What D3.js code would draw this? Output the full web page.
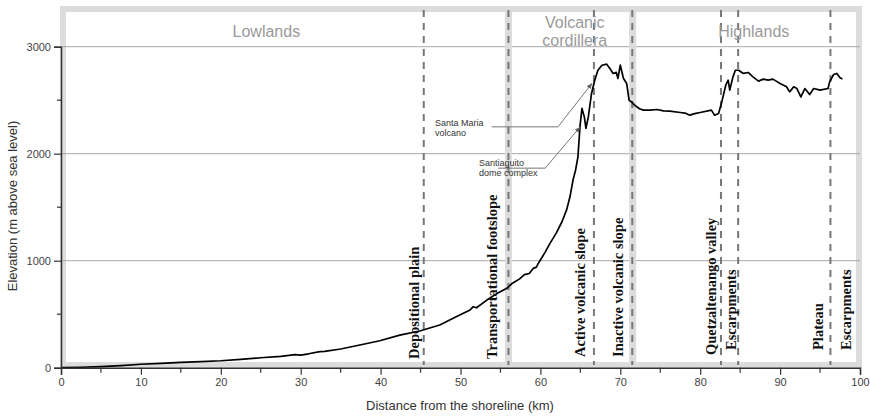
<!DOCTYPE html>
<html>
<head>
<meta charset="utf-8">
<script src="https://cdn.jsdelivr.net/npm/d3@7"></script>
<style>
  html, body { margin: 0; padding: 0; background: #fff; }
  svg { display: block; }
  text { font-family: "Liberation Sans", Arial, sans-serif; }
</style>
</head>
<body>
<svg id="chart" width="870" height="416"></svg>
<script>
// Elevation profile along the transect (distance in km, elevation in m a.s.l.)
const distanceKm = [0, 2.5, 5, 7.5, 10, 12.5, 15, 17.5, 20, 22.5, 25, 27.5, 29.3, 30, 31, 32.4, 33, 35, 37.4, 39.9,
  42.4, 44.9, 47.4, 49.9, 51.2, 51.6, 52, 53.3, 54.5, 55.8, 56.5, 57.4, 58, 58.6, 59.1, 59.5, 59.7, 60, 60.6, 61.2,
  62, 62.7, 63.3, 63.7, 64.1, 64.4, 64.7, 64.95, 65.2, 65.5, 65.7, 66, 66.4, 66.8, 67.2, 67.7, 68.3, 68.7, 69.1, 69.5,
  69.7, 70.0, 70.4, 70.8, 71.1, 71.4, 71.8, 72.4, 72.9, 73.7, 74.6, 75.4, 76.2, 77.5, 78.1, 78.7, 79.3, 80, 81.4, 81.8,
  82.3, 82.7, 83.2, 83.5, 83.7, 84.1, 84.4, 84.8, 85.4, 86, 86.6, 87.3, 87.9, 88.5, 89.1, 90, 90.8, 91.2, 91.7, 92.1,
  92.6, 93.1, 93.7, 94.2, 95, 96, 96.2, 96.7, 97.1, 97.5, 97.8];
const elevationM = [0, 4, 10, 20, 32, 40, 50, 57, 65, 78, 93, 105, 122, 118, 130, 150, 152, 175, 212, 252,
  305, 343, 399, 492, 540, 570, 560, 632, 690, 742, 790, 830, 870, 880, 928, 940, 970, 1006, 1080, 1162,
  1260, 1364, 1480, 1597, 1760, 1846, 1971, 2251, 2423, 2344, 2236, 2344, 2563, 2687, 2780, 2827, 2837, 2796, 2750, 2760,
  2703, 2827, 2703, 2656, 2500, 2484, 2453, 2420, 2407, 2407, 2413, 2400, 2398, 2385, 2380, 2360, 2375, 2385, 2407, 2360,
  2376, 2484, 2640, 2687, 2594, 2718, 2780, 2780, 2750, 2759, 2718, 2678, 2697, 2687, 2697, 2656, 2625, 2578, 2625, 2609,
  2531, 2609, 2553, 2609, 2594, 2609, 2671, 2740, 2750, 2709, 2697];

// Physiographic regions (label lines and centre in km)
const regionNames = [["Lowlands"], ["Volcanic", "cordillera"], ["Highlands"]];
const regionCentersKm = [25.7, 64.3, 86.7];
// Region boundaries (km), drawn as shaded bands
const regionBoundsKm = [56.0, 71.55];
// Landform unit boundaries (km), drawn as dashed lines
const unitBoundsKm = [45.4, 56.0, 66.7, 71.5, 82.6, 84.75, 96.3];
// Landform unit labels and the km position of their baseline
const unitNames = ["Depositional plain", "Transportational footslope", "Active volcanic slope",
  "Inactive volcanic slope", "Quetzaltenango valley", "Escarpments", "Plateau", "Escarpments"];
const unitLabelKm = [44.85, 54.6, 65.6, 70.3, 82.0, 84.5, 95.4, 98.9];

// Axis ticks
const xTicksMajor = [0, 10, 20, 30, 40, 50, 60, 70, 80, 90, 100];
const xTicksMinor = [5, 15, 25, 35, 45, 55, 65, 75, 85, 95];
const yTicksMajor = [0, 1000, 2000, 3000];
const yTicksMinor = [500, 1500, 2500];

// Volcano call-outs: text anchor, leader start, elbow and arrow tip as [km, m]
const calloutNames = [["Santa Maria", "volcano"], ["Santiaguito", "dome complex"]];
const calloutText = [[46.8, 2257], [52.3, 1884]];
const calloutStart = [[53.9, 2251], [54.7, 1865]];
const calloutElbow = [[62.2, 2251], [60.6, 1865]];
const calloutTip = [[66.45, 2656], [64.95, 2248]];

const svg = d3.select("#chart");
const x = d3.scaleLinear().domain([0, 100]).range([61, 860]);
const y = d3.scaleLinear().domain([0, 3000]).range([367.7, 46.7]);

const frame = { left: 63, right: 859, top: 9, bottom: 365 };

// Light grey frame around the plot area
svg.append("rect")
  .attr("x", frame.left).attr("y", frame.top)
  .attr("width", frame.right - frame.left).attr("height", frame.bottom - frame.top)
  .attr("fill", "none").attr("stroke", "#dcdcdc").attr("stroke-width", 6);

// Horizontal grid lines
svg.append("g").selectAll("line").data(yTicksMajor.filter(d => d > 0)).join("line")
  .attr("x1", x(0)).attr("x2", frame.right + 1)
  .attr("y1", d => y(d)).attr("y2", d => y(d))
  .attr("stroke", "#a8a8a8").attr("stroke-width", 1);

// Region boundary bands
svg.append("g").selectAll("rect").data(regionBoundsKm).join("rect")
  .attr("x", d => x(d) - 3.5).attr("width", 7)
  .attr("y", frame.top).attr("height", frame.bottom - frame.top)
  .attr("fill", "#dcdcdc");

// Landform boundaries
svg.append("g").selectAll("line").data(unitBoundsKm).join("line")
  .attr("x1", d => x(d)).attr("x2", d => x(d))
  .attr("y1", frame.top + 1).attr("y2", frame.bottom)
  .attr("stroke", "#777").attr("stroke-width", 2)
  .attr("stroke-dasharray", "7,6");

// Region names
const rg = svg.append("g").attr("fill", "#9a9a9a").attr("font-size", 16).attr("text-anchor", "middle");
regionNames.forEach((lines, i) => {
  const t = rg.append("text").attr("x", x(regionCentersKm[i]))
    .attr("y", lines.length > 1 ? 28 : 36.5);
  lines.forEach((s, j) => t.append("tspan").attr("x", x(regionCentersKm[i])).attr("dy", j ? 18 : 0).text(s));
});

// Profile line
const line = d3.line().x((d, i) => x(distanceKm[i])).y(d => y(d));
svg.append("path").datum(elevationM)
  .attr("d", line)
  .attr("fill", "none").attr("stroke", "#000").attr("stroke-width", 1.7)
  .attr("stroke-linejoin", "round");

// Landform labels, rotated
const ug = svg.append("g").attr("font-weight", "bold").attr("font-size", 14.5).attr("fill", "#111");
const unitLabelBottom = [359, 359, 357, 357, 355, 350, 350, 350];
unitNames.forEach((s, i) => {
  ug.append("text")
    .attr("transform", `translate(${x(unitLabelKm[i])},${unitLabelBottom[i]}) rotate(-90)`)
    .style("font-family", "'Liberation Serif', 'Times New Roman', serif")
    .text(s);
});

// Call-outs
svg.append("defs").append("marker")
  .attr("id", "arrow").attr("viewBox", "0 0 10 10").attr("refX", 9).attr("refY", 5)
  .attr("markerWidth", 6).attr("markerHeight", 6).attr("orient", "auto")
  .append("path").attr("d", "M0,1 L10,5 L0,9 Z").attr("fill", "#666");
const cg = svg.append("g");
calloutNames.forEach((lines, i) => {
  const pts = [calloutStart[i], calloutElbow[i], calloutTip[i]].map(p => [x(p[0]), y(p[1])]);
  cg.append("path").attr("d", d3.line()(pts))
    .attr("fill", "none").attr("stroke", "#777").attr("stroke-width", 1)
    .attr("marker-end", "url(#arrow)");
  const t = cg.append("text").attr("font-size", 9).attr("fill", "#333")
    .attr("x", x(calloutText[i][0])).attr("y", y(calloutText[i][1]));
  lines.forEach((s, j) => t.append("tspan").attr("x", x(calloutText[i][0])).attr("dy", j ? 9.5 : 0).text(s));
});

// X axis
const xa = svg.append("g").attr("transform", `translate(0,${y(0)})`);
xa.call(d3.axisBottom(x).tickValues(xTicksMajor).tickSize(7).tickPadding(4).tickFormat(d3.format("d")));
xa.append("g").selectAll("line").data(xTicksMinor).join("line")
  .attr("x1", d => x(d)).attr("x2", d => x(d)).attr("y1", 0).attr("y2", 5)
  .attr("stroke", "#333").attr("stroke-width", 1.2);
xa.select(".domain").attr("stroke", "#333").attr("stroke-width", 1.5);
xa.selectAll(".tick line").attr("stroke", "#333").attr("stroke-width", 1.2);
xa.selectAll(".tick text").attr("font-size", 11).attr("fill", "#444")
  .attr("font-family", "'Liberation Sans', Arial, sans-serif");

// Y axis
const ya = svg.append("g").attr("transform", `translate(${x(0)},0)`);
ya.call(d3.axisLeft(y).tickValues(yTicksMajor).tickSize(7).tickPadding(3).tickFormat(d3.format("d")));
ya.append("g").selectAll("line").data(yTicksMinor).join("line")
  .attr("x1", -4).attr("x2", 0).attr("y1", d => y(d)).attr("y2", d => y(d))
  .attr("stroke", "#333").attr("stroke-width", 1.2);
ya.select(".domain").attr("stroke", "#333").attr("stroke-width", 1.5);
ya.selectAll(".tick line").attr("stroke", "#333").attr("stroke-width", 1.2);
ya.selectAll(".tick text").attr("font-size", 11).attr("fill", "#444")
  .attr("font-family", "'Liberation Sans', Arial, sans-serif");

// Axis titles
svg.append("text").attr("x", 460).attr("y", 410).attr("text-anchor", "middle")
  .attr("font-size", 13).attr("fill", "#333").text("Distance from the shoreline (km)");
svg.append("text").attr("transform", "translate(17,206) rotate(-90)").attr("text-anchor", "middle")
  .attr("font-size", 13).attr("fill", "#333").text("Elevation (m above sea level)");
</script>
</body>
</html>
